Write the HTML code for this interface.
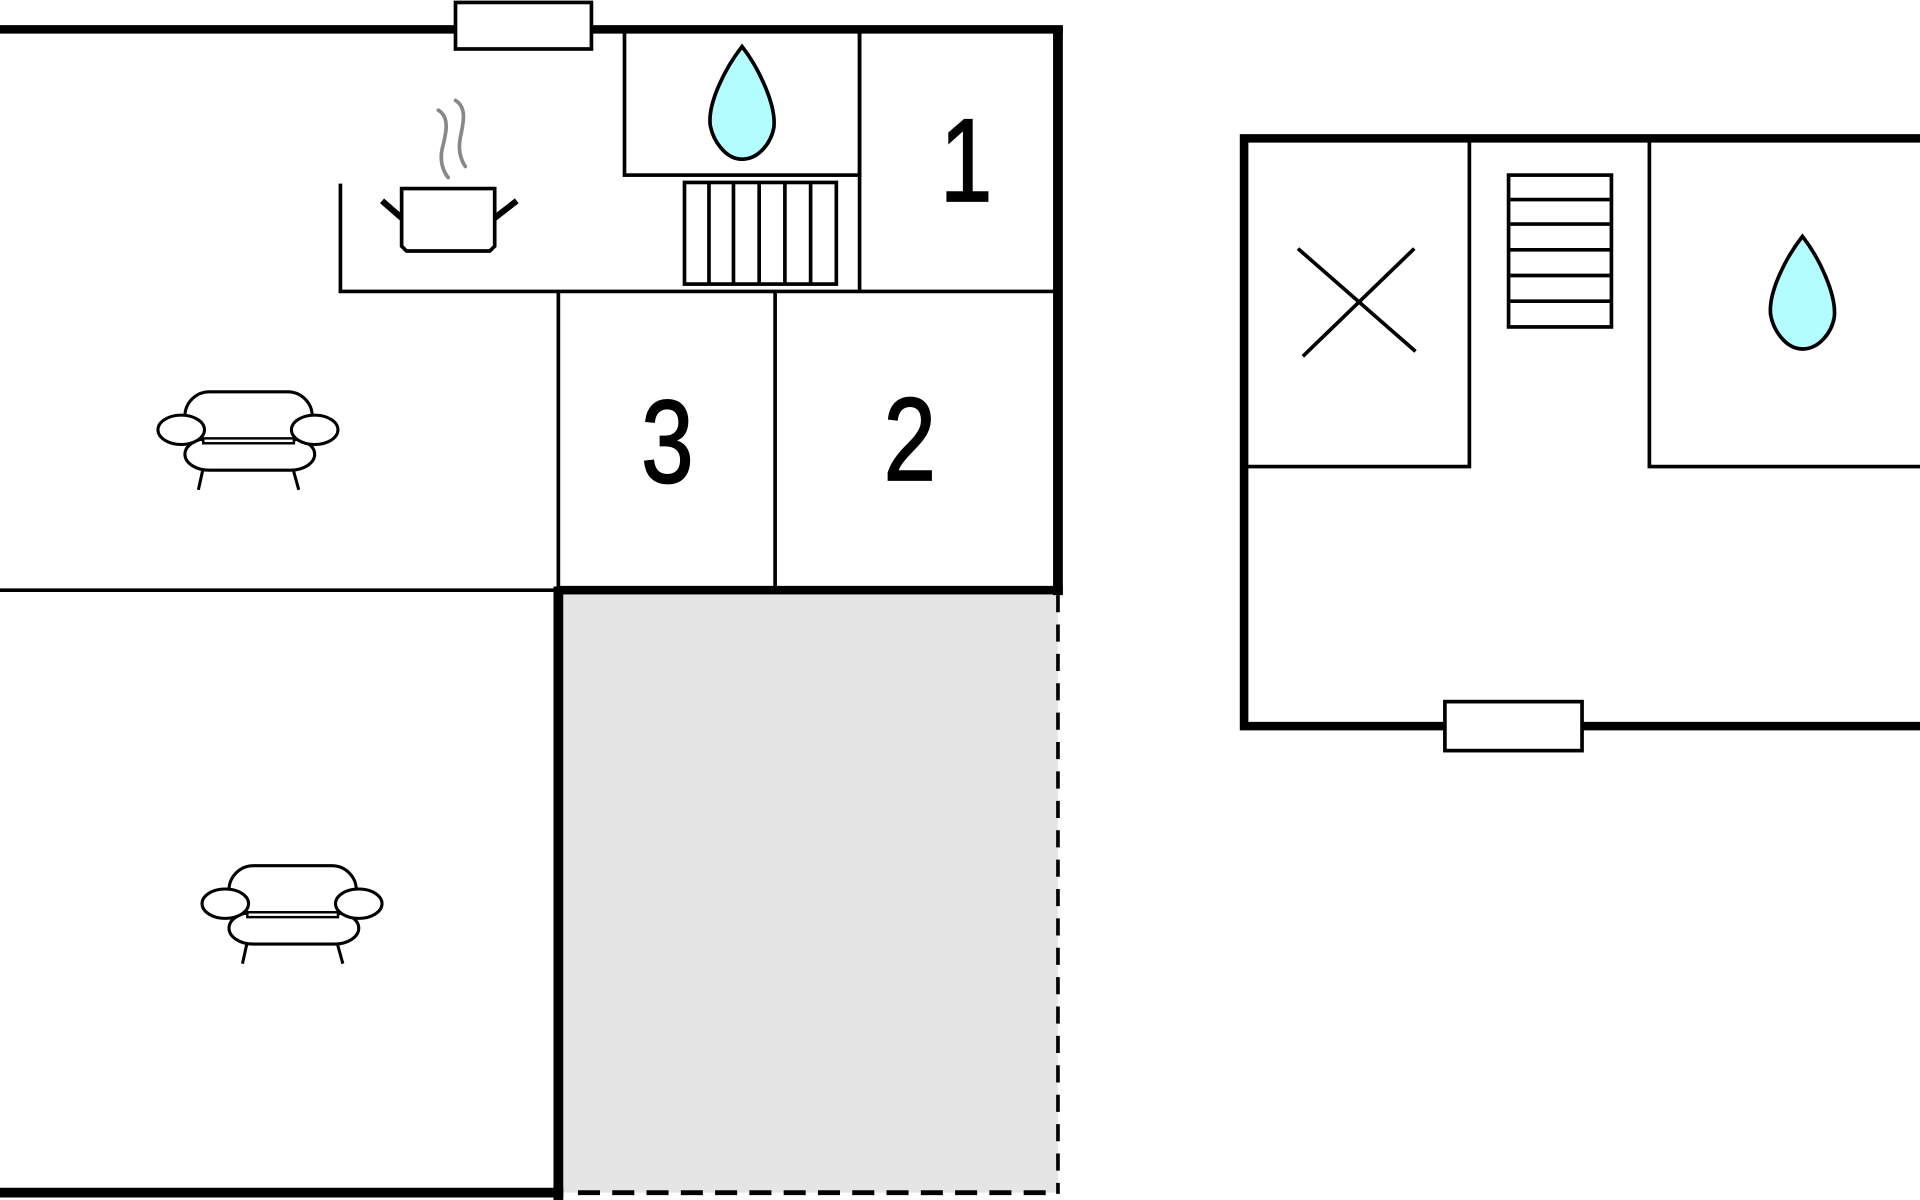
<!DOCTYPE html>
<html><head><meta charset="utf-8"><style>
html,body{margin:0;padding:0;background:#fff;}
svg{display:block;}
text{font-family:"Liberation Sans",sans-serif;}
</style></head><body>
<svg width="1920" height="1200" viewBox="0 0 1568 980" xmlns="http://www.w3.org/2000/svg">
<defs>
<g id="sofa" fill="#fff" stroke="#000" stroke-width="2.5">
  <line x1="-37" y1="22" x2="-41" y2="40"/><line x1="36" y1="22" x2="41" y2="40"/>
  <rect x="-52" y="-2" width="106" height="26" rx="20"/>
  <rect x="-52" y="-40" width="104" height="40" rx="20"/>
  <rect x="-37" y="-2" width="74" height="4" stroke-width="2"/>
  <ellipse cx="-55" cy="-9" rx="19" ry="12"/>
  <ellipse cx="54" cy="-9" rx="19" ry="12"/>
</g>
<path id="drop" d="M0,0 C-14,18 -28,46 -26,64 C-24,76 -14,92 0,92 C14,92 24,78 26,66 C28,48 14,18 0,0 Z" fill="#b3fcff" stroke="#000" stroke-width="3"/>
</defs>
<rect x="460" y="486" width="404" height="488" fill="#e5e5e5"/>
<line x1="864" y1="486" x2="864" y2="975" stroke="#000" stroke-width="3" stroke-dasharray="14,10"/>
<line x1="472" y1="974" x2="864" y2="974" stroke="#000" stroke-width="4" stroke-dasharray="18,10"/>
<g stroke="#000" fill="none">
<line x1="0" y1="24" x2="868" y2="24" stroke-width="7"/>
<line x1="864" y1="21" x2="864" y2="486" stroke-width="8"/>
<line x1="456" y1="482" x2="868" y2="482" stroke-width="7"/>
<line x1="456" y1="479" x2="456" y2="980" stroke-width="8"/>
<line x1="0" y1="974" x2="460" y2="974" stroke-width="8"/>
<line x1="0" y1="482" x2="456" y2="482" stroke-width="3"/>
<rect x="510" y="24" width="192" height="119" stroke-width="3"/>
<line x1="702" y1="24" x2="702" y2="238" stroke-width="3"/>
<polyline points="278,150 278,238 862,238" stroke-width="3"/>
<line x1="456" y1="238" x2="456" y2="480" stroke-width="3"/>
<line x1="633" y1="238" x2="633" y2="480" stroke-width="3"/>
<rect x="559" y="149" width="124" height="83" stroke-width="3"/>
<line x1="579" y1="149" x2="579" y2="232" stroke-width="3"/>
<line x1="599" y1="149" x2="599" y2="232" stroke-width="3"/>
<line x1="620" y1="149" x2="620" y2="232" stroke-width="3"/>
<line x1="641" y1="149" x2="641" y2="232" stroke-width="3"/>
<line x1="662" y1="149" x2="662" y2="232" stroke-width="3"/>
</g>
<rect x="372" y="2" width="111" height="38" fill="#fff" stroke="#000" stroke-width="3"/>
<g stroke="#000" stroke-width="3" fill="#fff">
<line x1="312" y1="164" x2="328" y2="178" stroke-width="5"/>
<line x1="404" y1="178" x2="422" y2="164" stroke-width="5"/>
<path d="M328,154 H404 V201 L400,205 H332 L328,201 Z"/>
</g>
<g stroke="#888" stroke-width="3" fill="none" stroke-linecap="round">
<path d="M358,90 C368,96 364,110 361,122 C359,132 362,140 366,145"/>
<path d="M372,82 C382,88 378,102 376,112 C374,122 376,130 380,136"/>
</g>
<use href="#drop" x="606" y="38"/>
<g font-size="96" text-anchor="middle" stroke="#000" stroke-width="1.5">
<text transform="translate(789,164) scale(0.8,1)">1</text>
<text transform="translate(545,394) scale(0.8,1)">3</text>
<text transform="translate(743,392) scale(0.8,1)">2</text>
</g>
<use href="#sofa" x="203" y="360"/>
<use href="#sofa" x="239" y="747"/>
<g stroke="#000" fill="none">
<polyline points="1568,113 1016,113 1016,593 1568,593" stroke-width="7"/>
<polyline points="1019,381 1200,381 1200,116" stroke-width="3"/>
<polyline points="1347,116 1347,381 1568,381" stroke-width="3"/>
<rect x="1232" y="143" width="84" height="124" stroke-width="3"/>
<line x1="1232" y1="163" x2="1316" y2="163" stroke-width="3"/>
<line x1="1232" y1="183" x2="1316" y2="183" stroke-width="3"/>
<line x1="1232" y1="204" x2="1316" y2="204" stroke-width="3"/>
<line x1="1232" y1="225" x2="1316" y2="225" stroke-width="3"/>
<line x1="1232" y1="246" x2="1316" y2="246" stroke-width="3"/>
<line x1="1060" y1="203" x2="1156" y2="287" stroke-width="3"/>
<line x1="1155" y1="203" x2="1064" y2="291" stroke-width="3"/>
</g>
<rect x="1180" y="573" width="112" height="40" fill="#fff" stroke="#000" stroke-width="3"/>
<use href="#drop" x="1472" y="193"/>
</svg>
</body></html>
